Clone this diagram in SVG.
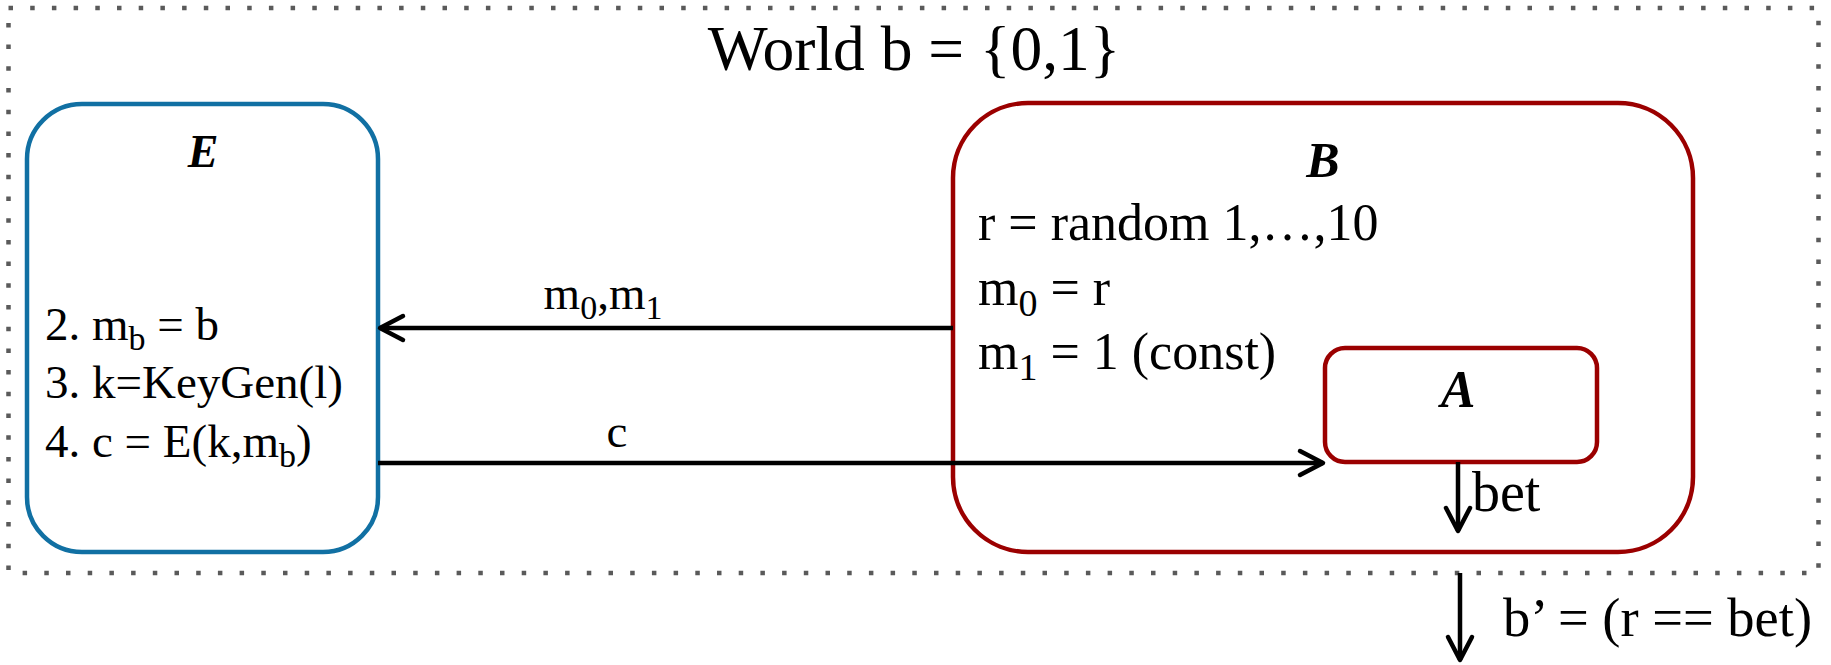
<svg xmlns="http://www.w3.org/2000/svg" width="1831" height="665" viewBox="0 0 1831 665">
<style>
text{font-family:"Liberation Serif","Times New Roman",serif;fill:#000}
.lbl{font-weight:bold;font-style:italic;text-anchor:middle}
.conn{stroke:#000;stroke-width:4.5;fill:none}
</style>
<defs>
<marker id="arr" viewBox="-28 -16 32 32" markerWidth="32" markerHeight="32" refX="0" refY="0" orient="auto" markerUnits="userSpaceOnUse">
<path d="M-23,-12 L0,0 L-23,12" fill="none" stroke="#000" stroke-width="4.5" stroke-linecap="round" stroke-linejoin="round"/>
</marker>
</defs>
<rect width="1831" height="665" fill="#fff"/>
<g id="world">
<rect x="8.5" y="8" width="1810" height="565" fill="none" stroke="#5a5a5a" stroke-width="4.5" stroke-dasharray="4.5 17.2"/>
<text x="914" y="70" font-size="63.5" text-anchor="middle">World b = {0,1}</text>
</g>
<g id="E">
<rect x="27" y="104" width="351" height="448" rx="55" fill="none" stroke="#1170A3" stroke-width="4.5"/>
<text class="lbl" x="203" y="167" font-size="46">E</text>
<text x="45" y="340" font-size="47">2. m<tspan dy="10" font-size="34">b</tspan><tspan dy="-10"> = b</tspan></text>
<text x="45" y="398" font-size="47">3. k=KeyGen(l)</text>
<text x="45" y="457" font-size="47">4. c = E(k,m<tspan dy="10" font-size="34">b</tspan><tspan dy="-10">)</tspan></text>
</g>
<g id="B">
<rect x="953" y="103" width="740" height="449" rx="75" fill="none" stroke="#9B0000" stroke-width="4.5"/>
<text class="lbl" x="1323" y="177" font-size="50">B</text>
<text x="978" y="240" font-size="52">r = random 1,…,10</text>
<text x="978" y="305" font-size="52">m<tspan dy="11" font-size="38">0</tspan><tspan dy="-11"> = r</tspan></text>
<text x="978" y="369" font-size="52">m<tspan dy="11" font-size="38">1</tspan><tspan dy="-11"> = 1 (const)</tspan></text>
</g>
<g id="A">
<rect x="1325" y="348" width="272" height="114" rx="20" fill="#fff" stroke="#9B0000" stroke-width="4.5"/>
<text class="lbl" x="1458" y="407" font-size="52">A</text>
</g>
<g id="connectors">
<line class="conn" x1="953" y1="328" x2="380" y2="328" marker-end="url(#arr)"/>
<text x="603" y="309" font-size="47" text-anchor="middle">m<tspan dy="10" font-size="34">0</tspan><tspan dy="-10">,m</tspan><tspan dy="10" font-size="34">1</tspan></text>
<line class="conn" x1="378" y1="463" x2="1323" y2="463" marker-end="url(#arr)"/>
<text x="617" y="447" font-size="47" text-anchor="middle">c</text>
<line class="conn" x1="1458" y1="462" x2="1458" y2="531" marker-end="url(#arr)"/>
<text x="1472" y="511" font-size="56">bet</text>
<line class="conn" x1="1460" y1="573" x2="1460" y2="660" marker-end="url(#arr)"/>
<text x="1503" y="636" font-size="54.5">b’ = (r == bet)</text>
</g>
</svg>
